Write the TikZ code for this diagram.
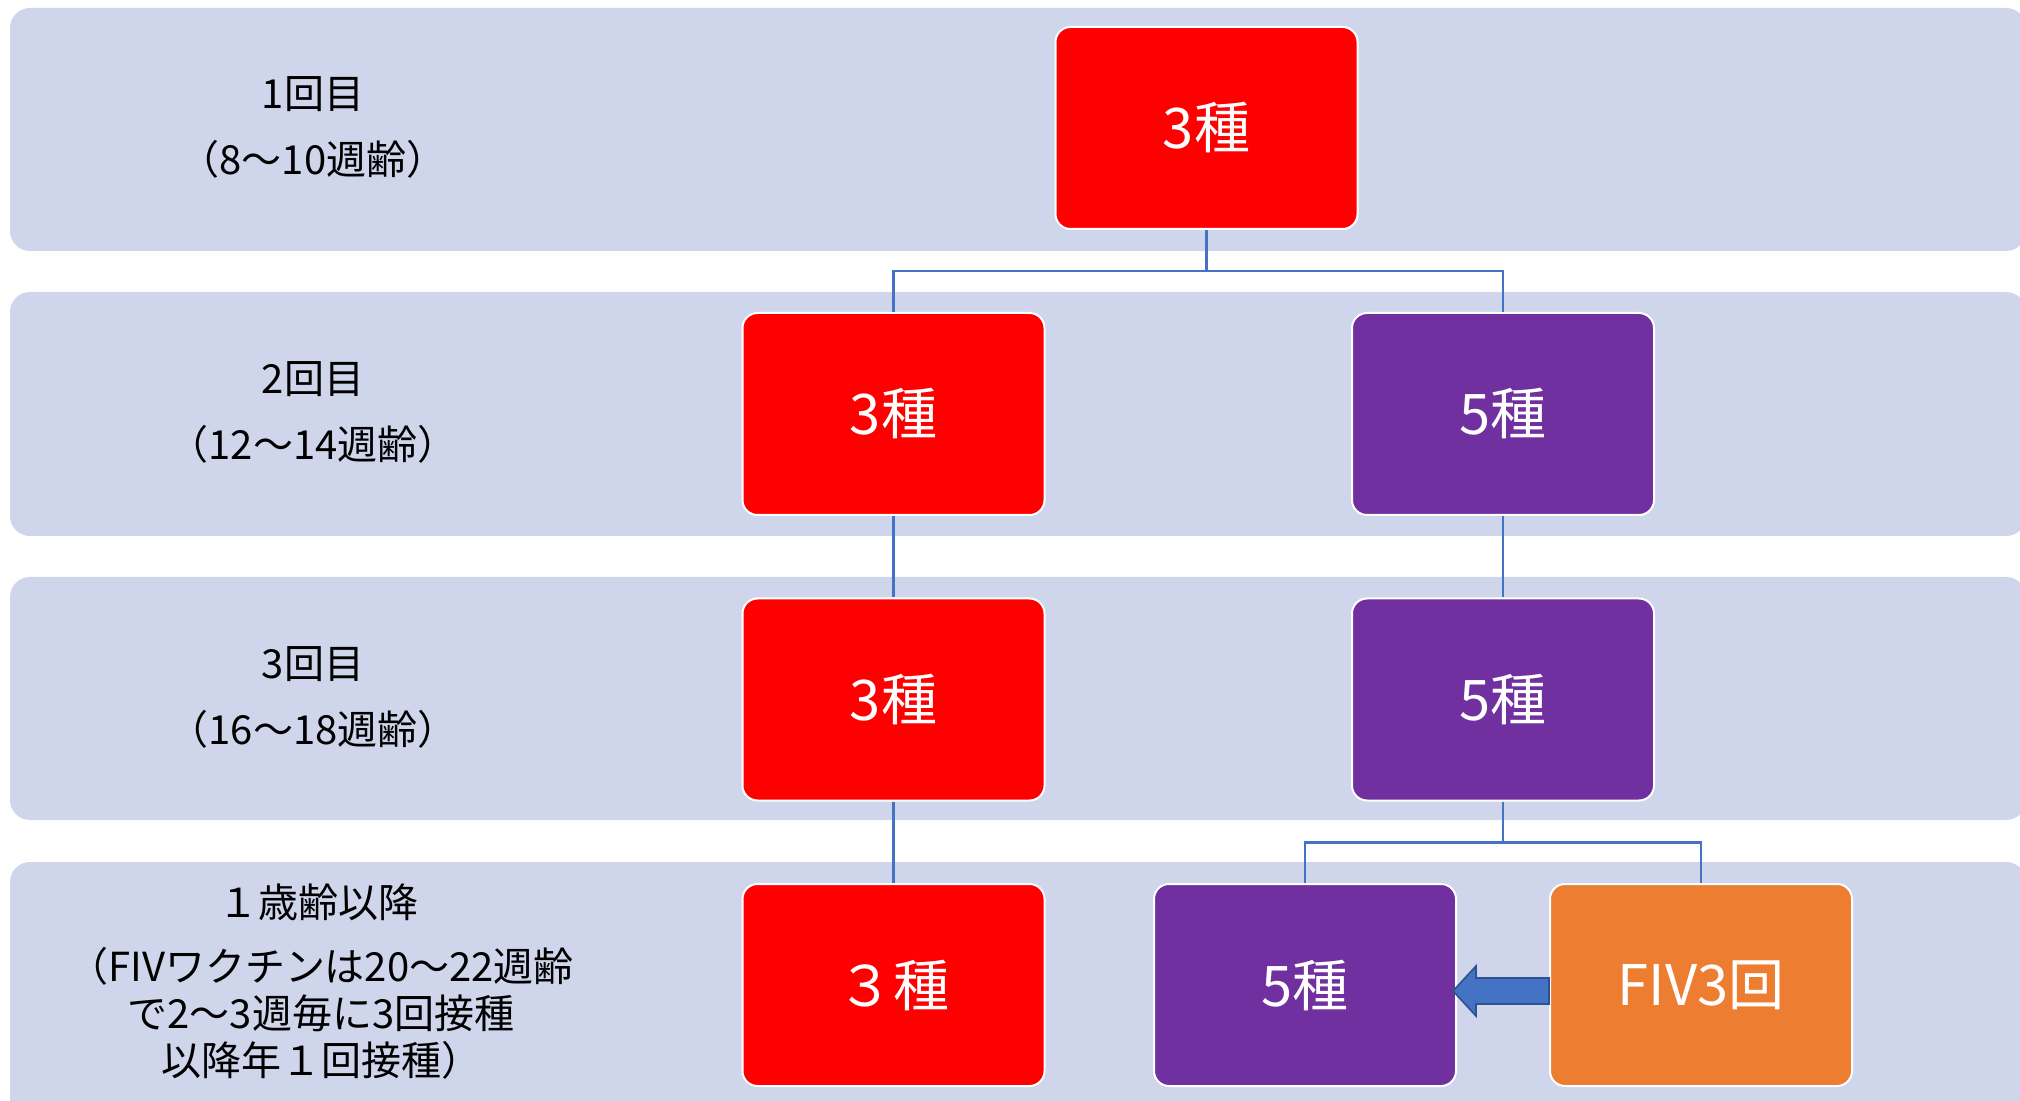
\documentclass[tikz,border=0pt]{standalone}
\usepackage{fontspec}
\setmainfont{Noto Sans CJK JP}
\usetikzlibrary{calc,positioning}

\definecolor{bandcol}{HTML}{CFD5EA}
\definecolor{redcol}{HTML}{FF0000}
\definecolor{purplecol}{HTML}{7030A0}
\definecolor{orangecol}{HTML}{ED7D31}
\definecolor{linecol}{HTML}{4472C4}
\definecolor{arrowedge}{HTML}{2F528F}

\begin{document}
\begin{tikzpicture}[x=0.5pt,y=-0.5pt,
    band/.style={fill=bandcol,rounded corners=10pt},
    vax/.style={draw=white,line width=1pt,rounded corners=7.5pt,minimum width=151pt,minimum height=101pt,inner sep=0pt,text=white,font=\fontsize{28}{34}\selectfont},
    vaxA/.style={vax,fill=redcol},
    vaxB/.style={vax,fill=purplecol},
    vaxC/.style={vax,fill=orangecol},
    conn/.style={draw=linecol,line width=1.2pt},
    lbl/.style={align=center,font=\fontsize{20}{33}\selectfont}]

    \useasboundingbox (0,0) rectangle (2020,1101);
    \clip (0,0) rectangle (2020,1101);

    \fill[band] (10,8) rectangle (2026,251); % 1st
    \fill[band] (10,292) rectangle (2026,536); % 2nd
    \fill[band] (10,577) rectangle (2026,820); % 3rd
    \fill[band] (10,862) rectangle (2026,1130); % after 1 year

    \node[lbl] (l1) at (313,127) {1回目\\（8〜10週齢）};
    \node[lbl] (l2) at (313,412) {2回目\\（12〜14週齢）};
    \node[lbl] (l3) at (313,697) {3回目\\（16〜18週齢）};
    \node[lbl] (l4) at (318,902) {１歳齢以降};
    \node[lbl,font=\fontsize{20}{23.5}\selectfont] (l4b) at (321,1013) {（FIVワクチンは20〜22週齢\\で2〜3週毎に3回接種\\以降年１回接種）};

    \node[vaxA] (t1) at (1206.5,128) {3種};
    \node[vaxA] (a2) at (893.5,414) {3種};
    \node[vaxB] (b2) at (1503,414) {5種};
    \node[vaxA] (a3) at (893.5,699.5) {3種};
    \node[vaxB] (b3) at (1503,699.5) {5種};
    \node[vaxA] (a4) at (893.5,985) {３種};
    \node[vaxB] (b4) at (1305,985) {5種};
    \node[vaxC] (f4) at (1701,985) {FIV3回};

    \draw[conn] (t1.south) -- ++(0,41) -| (a2.north);
    \draw[conn] (t1.south) -- ++(0,41) -| (b2.north);
    \draw[conn] (a2.south) -- (a3.north);
    \draw[conn] (b2.south) -- (b3.north);
    \draw[conn] (a3.south) -- (a4.north);
    \draw[conn] (b3.south) -- ++(0,41) -| (b4.north);
    \draw[conn] (b3.south) -- ++(0,41) -| (f4.north);

    % FIV -> 5種
    \draw[fill=linecol,draw=arrowedge,line width=0.8pt] ($(f4.west)+(0,-7)$) -- ++(-73,0) -- ++(0,-12)
      -- ++(-23,25) -- ++(23,25) -- ++(0,-12) -- ++(73,0) -- cycle;

\end{tikzpicture}
\end{document}
